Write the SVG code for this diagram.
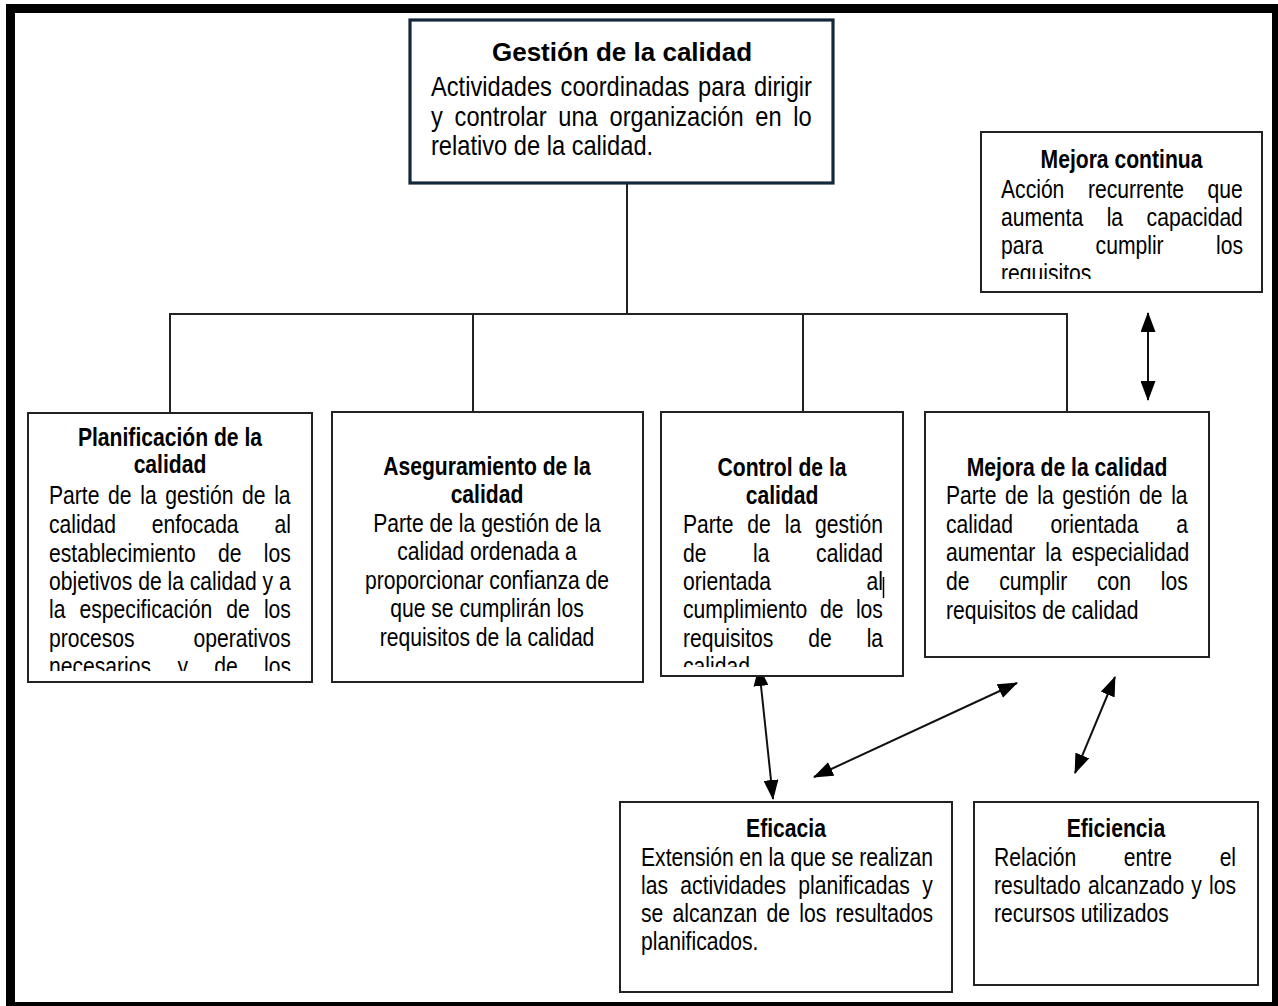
<svg xmlns="http://www.w3.org/2000/svg" width="1278" height="1006" viewBox="0 0 1278 1006">
<style>
text{font-family:"Liberation Sans",Arial,sans-serif;fill:#000}
.t{font-size:25px;font-weight:bold;text-anchor:middle}
.b{font-size:25px}
.mt{font-size:26px;font-weight:bold;text-anchor:middle}
.mb{font-size:27px}
.box{fill:#fff;stroke:#222;stroke-width:2}
.main{fill:#fff;stroke:#14283c;stroke-width:3.2}
.conn line{stroke:#222;stroke-width:2;fill:none}
.arr line{stroke:#111;stroke-width:2;marker-start:url(#ah);marker-end:url(#ah)}
</style>
<defs>
<marker id="ah" markerUnits="userSpaceOnUse" markerWidth="20" markerHeight="15" refX="19" refY="7.5" orient="auto-start-reverse">
<path d="M0,0 L20,7.5 L0,15 Z" fill="#000"/>
</marker>
<clipPath id="cPlan"><rect x="20" y="400" width="300" height="271"/></clipPath>
<clipPath id="cCtrl"><rect x="655" y="400" width="260" height="267"/></clipPath>
<clipPath id="cMc"><rect x="975" y="130" width="295" height="149"/></clipPath>
</defs>
<rect x="0" y="0" width="1278" height="1006" fill="#fff"/>
<path d="M6,4H1278V1006H6Z M15,13V1002H1272V13Z" fill="#000" fill-rule="evenodd"/>

<g id="connectors">
<g class="conn">
<line x1="627" y1="183" x2="627" y2="314"/>
<line x1="169" y1="314" x2="1068" y2="314"/>
<line x1="170" y1="314" x2="170" y2="413"/>
<line x1="473" y1="314" x2="473" y2="412"/>
<line x1="803" y1="314" x2="803" y2="412"/>
<line x1="1067" y1="314" x2="1067" y2="412"/>
</g>
<g class="arr">
<line x1="1148" y1="313" x2="1148" y2="400"/>
<line x1="759" y1="667" x2="773" y2="799"/>
<line x1="814" y1="777" x2="1017" y2="683"/>
<line x1="1115" y1="677" x2="1075" y2="773"/>
</g>
</g>

<g id="gestion">
<rect class="main" x="410" y="20" width="423" height="163"/>
<text class="mt" x="622" y="61">Gestión de la calidad</text>
<g transform="translate(431,0) scale(0.876,1)">
<text class="mb" y="96" style="word-spacing:2.4px">Actividades coordinadas para dirigir</text>
<text class="mb" y="126" style="word-spacing:5.9px">y controlar una organización en lo</text>
<text class="mb" y="155">relativo de la calidad.</text>
</g>
</g>

<g id="mejora-continua">
<rect class="box" x="981" y="132" width="281" height="160"/>
<g transform="translate(1001,0) scale(0.845,1)">
<text class="t" x="142.6" y="168">Mejora continua</text>
</g>
<g clip-path="url(#cMc)"><g transform="translate(1001,0) scale(0.845,1)">
<text class="b" y="198" style="word-spacing:20.9px">Acción recurrente que</text>
<text class="b" y="226" style="word-spacing:20.9px">aumenta la capacidad</text>
<text class="b" y="254" style="word-spacing:55px">para cumplir los</text>
<text class="b" y="282">requisitos</text>
</g></g>
</g>

<g id="planificacion">
<rect class="box" x="28" y="413" width="284" height="269"/>
<g clip-path="url(#cPlan)"><g transform="translate(49,0) scale(0.845,1)">
<text class="t" x="143.2" y="446">Planificación de la</text>
<text class="t" x="143.2" y="473">calidad</text>
<text class="b" y="504" style="word-spacing:3.3px">Parte de la gestión de la</text>
<text class="b" y="533" style="word-spacing:35.5px">calidad enfocada al</text>
<text class="b" y="562" style="word-spacing:19.5px">establecimiento de los</text>
<text class="b" y="590">objetivos de la calidad y a</text>
<text class="b" y="618" style="word-spacing:9.8px">la especificación de los</text>
<text class="b" y="647" style="word-spacing:62.7px">procesos operativos</text>
<text class="b" y="675" style="word-spacing:24.2px">necesarios y de los</text>
</g></g>
</g>

<g id="aseguramiento">
<rect class="box" x="332" y="412" width="311" height="270"/>
<g transform="translate(487,0) scale(0.845,1)">
<text class="t" x="0" y="475">Aseguramiento de la</text>
<text class="t" x="0" y="503">calidad</text>
<text class="b" x="0" y="532" text-anchor="middle">Parte de la gestión de la</text>
<text class="b" x="0" y="560" text-anchor="middle">calidad ordenada a</text>
<text class="b" x="0" y="589" text-anchor="middle">proporcionar confianza de</text>
<text class="b" x="0" y="617" text-anchor="middle">que se cumplirán los</text>
<text class="b" x="0" y="646" text-anchor="middle">requisitos de la calidad</text>
</g>
</g>

<g id="control">
<rect class="box" x="661" y="412" width="242" height="264"/>
<g clip-path="url(#cCtrl)"><g transform="translate(683,0) scale(0.845,1)">
<text class="t" x="117.2" y="476">Control de la</text>
<text class="t" x="117.2" y="504">calidad</text>
<text class="b" y="533" style="word-spacing:9.5px">Parte de la gestión</text>
<text class="b" y="562" style="word-spacing:48.2px">de la calidad</text>
<text class="b" y="590" style="word-spacing:106.1px">orientada al</text>
<text class="b" y="618" style="word-spacing:7.9px">cumplimiento de los</text>
<text class="b" y="647" style="word-spacing:34.4px">requisitos de la</text>
<text class="b" y="675">calidad</text>
</g></g>
<line x1="883.5" y1="577" x2="883.5" y2="598" stroke="#000" stroke-width="1.5"/>
</g>

<g id="mejora-calidad">
<rect class="box" x="925" y="412" width="284" height="245"/>
<g transform="translate(946,0) scale(0.845,1)">
<text class="t" x="143.2" y="476">Mejora de la calidad</text>
<text class="b" y="504" style="word-spacing:3.3px">Parte de la gestión de la</text>
<text class="b" y="533" style="word-spacing:37.6px">calidad orientada a</text>
<text class="b" y="561" style="word-spacing:5px">aumentar la especialidad</text>
<text class="b" y="590" style="word-spacing:28.3px">de cumplir con los</text>
<text class="b" y="619">requisitos de calidad</text>
</g>
</g>

<g id="eficacia">
<rect class="box" x="620" y="802" width="332" height="190"/>
<g transform="translate(641,0) scale(0.845,1)">
<text class="t" x="171.6" y="837">Eficacia</text>
<text class="b" y="866" style="word-spacing:-0.3px">Extensión en la que se realizan</text>
<text class="b" y="894" style="word-spacing:7.7px">las actividades planificadas y</text>
<text class="b" y="922" style="word-spacing:4.1px">se alcanzan de los resultados</text>
<text class="b" y="950">planificados.</text>
</g>
</g>

<g id="eficiencia">
<rect class="box" x="974" y="802" width="284" height="183"/>
<g transform="translate(994,0) scale(0.845,1)">
<text class="t" x="144.3" y="837">Eficiencia</text>
<text class="b" y="866" style="word-spacing:49.5px">Relación entre el</text>
<text class="b" y="894" style="word-spacing:1.5px">resultado alcanzado y los</text>
<text class="b" y="922">recursos utilizados</text>
</g>
</g>
</svg>
